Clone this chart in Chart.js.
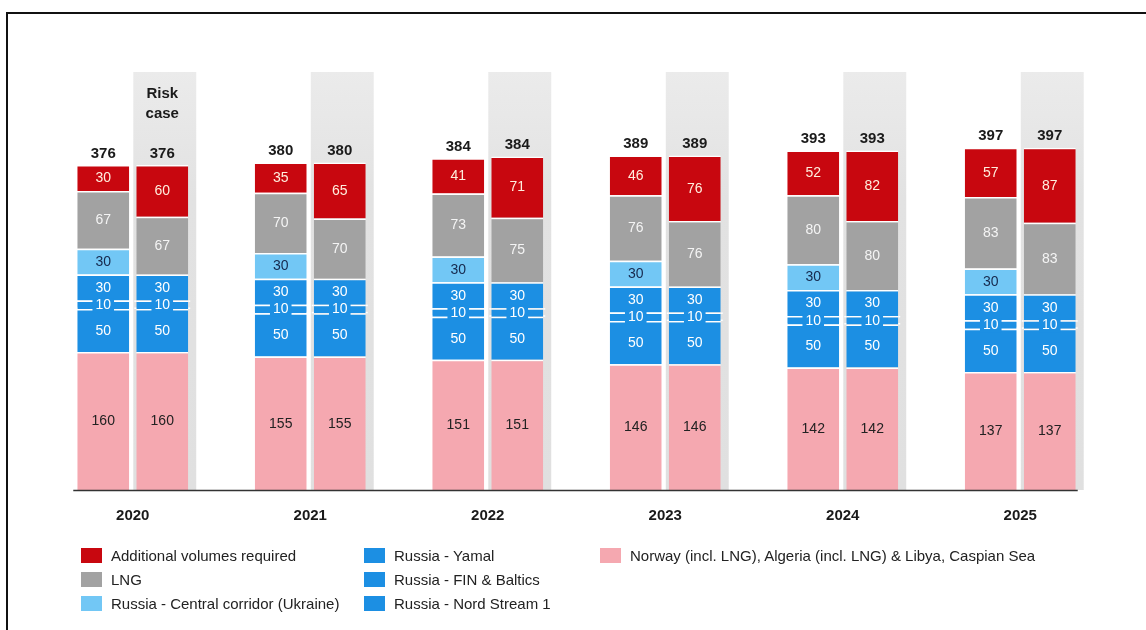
<!DOCTYPE html>
<html>
<head>
<meta charset="utf-8">
<script src="https://cdn.jsdelivr.net/npm/chart.js@4/dist/chart.umd.min.js"></script>
<style>
  body { margin: 0; background: #fff; font-family: "Liberation Sans", Arial, sans-serif; }
  #wrap { position: relative; width: 1146px; height: 630px; overflow: hidden; }
  #frame { position: absolute; left: 6px; top: 12px; width: 1200px; height: 700px;
           border-left: 2px solid #111; border-top: 2px solid #111; }
  canvas { position: absolute; left: 0; top: 0; }
  .legend-col { position: absolute; top: 543px; }
  .legend-item { height: 24px; display: flex; align-items: center; font-size: 15px; color: #222; white-space: nowrap; }
  .legend-item span.sw { display: inline-block; width: 21px; height: 15px; margin-right: 9px; }
</style>
</head>
<body>
<div id="wrap">
  <div id="frame"></div>
  <canvas id="chart" width="1146" height="630"></canvas>
  <div class="legend-col" id="leg1" style="left:81px"></div>
  <div class="legend-col" id="leg2" style="left:364px"></div>
  <div class="legend-col" id="leg3" style="left:600px"></div>
</div>
<script>
// Data
const years = ['2020', '2021', '2022', '2023', '2024', '2025'];
const norway = [160, 155, 151, 146, 142, 137];
const nordStream = [50, 50, 50, 50, 50, 50];
const finBaltics = [10, 10, 10, 10, 10, 10];
const yamal = [30, 30, 30, 30, 30, 30];
const ukraine = [30, 30, 30, 30, 30, 30];
const lngBase = [67, 70, 73, 76, 80, 83];
const lngRisk = [67, 70, 75, 76, 80, 83];
const additionalBase = [30, 35, 41, 46, 52, 57];
const additionalRisk = [60, 65, 71, 76, 82, 87];
const totals = [376, 380, 384, 389, 393, 397];
const riskNote = ['Risk', 'case'];

// Colours
const RED = '#c8070f';
const GREY = '#a2a2a2';
const LIGHT_BLUE = '#72c7f5';
const BLUE = '#1c8fe3';
const PINK = '#f5a8b0';

function seg(label, data, color, stack, labelColor, extra) {
    return Object.assign({
        label: label,
        data: data,
        backgroundColor: color,
        borderColor: '#ffffff',
        borderWidth: { top: 1.5, bottom: 0, left: 0, right: 0 },
        borderSkipped: false,
        stack: stack,
        labelColor: labelColor,
        categoryPercentage: 0.665,
        barPercentage: 0.88
    }, extra || {});
}

const datasets = [
    seg('Norway (incl. LNG), Algeria (incl. LNG) & Libya, Caspian Sea', norway, PINK, 'base', '#222'),
    seg('Russia - Nord Stream 1', nordStream, BLUE, 'base', '#fff'),
    seg('Russia - FIN & Baltics', finBaltics, BLUE, 'base', '#fff', { boxed: true }),
    seg('Russia - Yamal', yamal, BLUE, 'base', '#fff'),
    seg('Russia - Central corridor (Ukraine)', ukraine, LIGHT_BLUE, 'base', '#16294d'),
    seg('LNG', lngBase, GREY, 'base', '#f4f4f4'),
    seg('Additional volumes required', additionalBase, RED, 'base', '#ffeede', { isTop: true }),
    seg('Norway risk', norway, PINK, 'risk', '#222'),
    seg('Nord Stream 1 risk', nordStream, BLUE, 'risk', '#fff'),
    seg('FIN & Baltics risk', finBaltics, BLUE, 'risk', '#fff', { boxed: true }),
    seg('Yamal risk', yamal, BLUE, 'risk', '#fff'),
    seg('LNG risk', lngRisk, GREY, 'risk', '#f4f4f4'),
    seg('Additional risk', additionalRisk, RED, 'risk', '#ffeede', { isTop: true })
];
const riskFirst = 7;

// Legend layout (3 columns like the source)
const legendCols = [
    [['Additional volumes required', RED], ['LNG', GREY], ['Russia - Central corridor (Ukraine)', LIGHT_BLUE]],
    [['Russia - Yamal', BLUE], ['Russia - FIN & Baltics', BLUE], ['Russia - Nord Stream 1', BLUE]],
    [['Norway (incl. LNG), Algeria (incl. LNG) & Libya, Caspian Sea', PINK]]
];
legendCols.forEach((col, i) => {
    const el = document.getElementById('leg' + (i + 1));
    col.forEach(([text, color]) => {
        const row = document.createElement('div');
        row.className = 'legend-item';
        row.innerHTML = `<span class="sw" style="background:${color}"></span>${text}`;
        el.appendChild(row);
    });
});

const FONT = '"Liberation Sans", Arial, sans-serif';

const barDecor = {
    id: 'barDecor',
    beforeDatasetsDraw(chart) {
        const ctx = chart.ctx;
        const area = chart.chartArea;
        const meta = chart.getDatasetMeta(riskFirst);
        ctx.save();
        meta.data.forEach(bar => {
            const { x, width } = bar.getProps(['x', 'width'], true);
            const g = ctx.createLinearGradient(0, area.top, 0, area.bottom);
            g.addColorStop(0, '#ebebeb');
            g.addColorStop(0.3, '#e2e2e2');
            g.addColorStop(1, '#e0e0e0');
            ctx.fillStyle = g;
            ctx.fillRect(x - width / 2 - 3, area.top, width + 11, area.bottom - area.top);
        });
        ctx.restore();
    },
    afterDatasetsDraw(chart) {
        const ctx = chart.ctx;
        const area = chart.chartArea;
        ctx.save();
        ctx.textAlign = 'center';
        ctx.textBaseline = 'middle';

        // segment values
        chart.data.datasets.forEach((ds, di) => {
            const meta = chart.getDatasetMeta(di);
            meta.data.forEach((bar, i) => {
                const v = ds.data[i];
                if (v == null) return;
                const { x, y, base, width } = bar.getProps(['x', 'y', 'base', 'width'], true);
                const cy = (y + base) / 2 + 0.5;
                ctx.font = '14px ' + FONT;
                if (ds.boxed) {
                    const tw = ctx.measureText(String(v)).width;
                    ctx.fillStyle = ds.backgroundColor;
                    ctx.fillRect(x - tw / 2 - 3, cy - 7, tw + 6, 14);
                    // little white rules sticking out beside the narrow segment
                    ctx.fillStyle = '#fff';
                    ctx.fillRect(x - width / 2 - 2, y, 2, 1.5);
                    ctx.fillRect(x - width / 2 - 2, base - 1.5, 2, 1.5);
                    ctx.fillRect(x + width / 2, y, 2, 1.5);
                    ctx.fillRect(x + width / 2, base - 1.5, 2, 1.5);
                }
                ctx.fillStyle = ds.labelColor;
                ctx.fillText(String(v), x, cy);
            });
        });

        // totals above each stack
        ctx.font = 'bold 15px ' + FONT;
        ctx.fillStyle = '#1a1a1a';
        ctx.textBaseline = 'bottom';
        chart.data.datasets.forEach((ds, di) => {
            if (!ds.isTop) return;
            chart.getDatasetMeta(di).data.forEach((bar, i) => {
                const { x, y } = bar.getProps(['x', 'y'], true);
                ctx.fillText(String(totals[i]), x, y - 4);
            });
        });

        // "Risk case" note above the first risk bar
        const first = chart.getDatasetMeta(riskFirst).data[0];
        ctx.textBaseline = 'middle';
        riskNote.forEach((t, k) => ctx.fillText(t, first.x, area.top + 22 + k * 20));

        // x axis line spanning the bars
        const firstBar = chart.getDatasetMeta(0).data[0];
        const lastBar = chart.getDatasetMeta(riskFirst).data[years.length - 1];
        ctx.strokeStyle = '#333';
        ctx.lineWidth = 1.5;
        ctx.beginPath();
        ctx.moveTo(firstBar.x - firstBar.width / 2 - 4, area.bottom + 0.5);
        ctx.lineTo(lastBar.x + lastBar.width / 2 + 2, area.bottom + 0.5);
        ctx.stroke();
        ctx.restore();
    }
};

new Chart(document.getElementById('chart'), {
    type: 'bar',
    data: { labels: years, datasets: datasets },
    options: {
        responsive: false,
        animation: false,
        layout: { padding: { left: 44, right: 37, top: 72, bottom: 96 } },
        plugins: {
            legend: { display: false },
            tooltip: { enabled: false }
        },
        scales: {
            x: {
                stacked: true,
                grid: { display: false },
                border: { display: false },
                ticks: { color: '#1a1a1a', padding: 9, font: { family: FONT, size: 15, weight: 'bold' } }
            },
            y: {
                stacked: true,
                display: false,
                min: 0,
                max: 485
            }
        }
    },
    plugins: [barDecor]
});
</script>
</body>
</html>
